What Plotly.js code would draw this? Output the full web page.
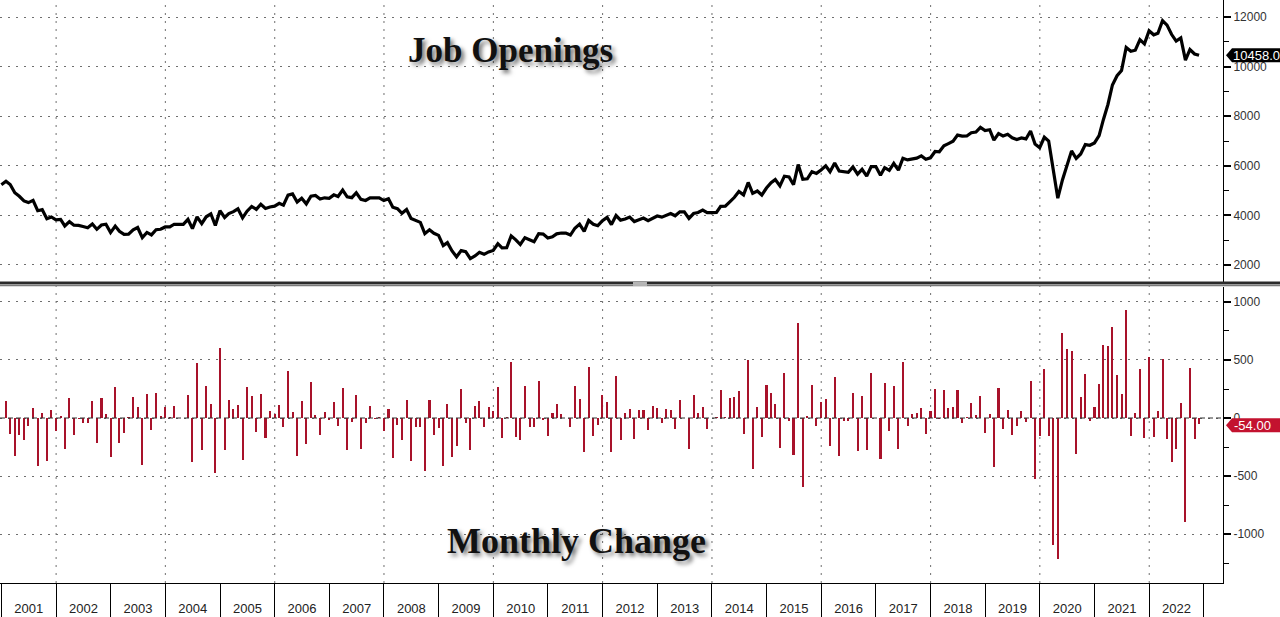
<!DOCTYPE html>
<html>
<head>
<meta charset="utf-8">
<script src="https://cdn.plot.ly/plotly-3.0.1.min.js"></script>
<style>
html,body{margin:0;padding:0;background:#fff;}
#chart{width:1280px;height:617px;}
</style>
</head>
<body>
<div id="chart"></div>
<script>
// First observation: December 2000, monthly (month-end) thereafter
const startYear = 2000;
const startMonth = 12;

// Job openings, thousands (Dec 2000 .. Nov 2022)
const jobOpenings = [
  5232,
  5378, 5243, 4913, 4770, 4583, 4514, 4603, 4187, 4230, 3863, 3935, 3820,
  3837, 3573, 3745, 3602, 3594, 3548, 3502, 3648, 3436, 3608, 3642, 3303,
  3567, 3355, 3229, 3238, 3416, 3511, 3103, 3310, 3210, 3422, 3439, 3531,
  3537, 3641, 3637, 3639, 3837, 3462, 3939, 3665, 3942, 4062, 3589, 4189,
  3913, 4070, 4148, 4261, 3901, 4168, 4358, 4240, 4447, 4277, 4337, 4369,
  4482, 4407, 4815, 4867, 4540, 4688, 4462, 4775, 4801, 4656, 4708, 4688,
  4827, 4760, 5021, 4745, 4713, 4910, 4646, 4600, 4704, 4695, 4704, 4595,
  4672, 4329, 4268, 4081, 4238, 3871, 3794, 3717, 3262, 3419, 3274, 3190,
  2778, 2900, 2564, 2326, 2578, 2532, 2256, 2360, 2508, 2427, 2523, 2584,
  2854, 2683, 2692, 3171, 3009, 2823, 3099, 3018, 2937, 3259, 3242, 3088,
  3131, 3253, 3288, 3285, 3204, 3480, 3645, 3355, 3796, 3642, 3584, 3781,
  3917, 3627, 3992, 3806, 3849, 3927, 3750, 3820, 3890, 3783, 3887, 3974,
  3928, 4006, 4076, 3983, 4140, 4140, 3876, 4073, 4116, 4212, 4113, 4113,
  4118, 4362, 4371, 4545, 4728, 4963, 4827, 5326, 4888, 4984, 4819, 5103,
  5321, 5443, 5188, 5580, 5551, 5235, 6050, 5458, 5473, 5760, 5693, 5832,
  5997, 5759, 6113, 5785, 5762, 5733, 5950, 5665, 5857, 5583, 5967, 5970,
  5618, 5924, 5814, 6093, 5825, 6304, 6236, 6268, 6310, 6398, 6262, 6323,
  6576, 6564, 6808, 6896, 6992, 7236, 7196, 7204, 7334, 7359, 7549, 7421,
  7455, 7035, 7296, 7203, 7273, 7129, 7061, 7121, 7083, 7403, 6881, 6728,
  7152, 6999, 5904, 4691, 5427, 6023, 6602, 6295, 6476, 6856, 6827, 6923,
  7217, 7850, 8474, 9262, 9634, 9841, 10774, 10621, 10665, 11089, 10920, 11447,
  11285, 11345, 11856, 11676, 11296, 11030, 11157, 10265, 10692, 10512, 10458
];

// Monthly change, thousands (Jan 2001 .. Nov 2022)
const monthlyChange = [
  146, -135, -330, -143, -187, -69, 89, -416, 43, -367, 72, -115,
  17, -264, 172, -143, -8, -46, -46, 146, -212, 172, 34, -339,
  264, -212, -126, 9, 178, 95, -408, 207, -100, 212, 17, 92,
  6, 104, -4, 2, 198, -375, 477, -274, 277, 120, -473, 600,
  -276, 157, 78, 113, -360, 267, 190, -118, 207, -170, 60, 32,
  113, -75, 408, 52, -327, 148, -226, 313, 26, -145, 52, -20,
  139, -67, 261, -276, -32, 197, -264, -46, 104, -9, 9, -109,
  77, -343, -61, -187, 157, -367, -77, -77, -455, 157, -145, -84,
  -412, 122, -336, -238, 252, -46, -276, 104, 148, -81, 96, 61,
  270, -171, 9, 479, -162, -186, 276, -81, -81, 322, -17, -154,
  43, 122, 35, -3, -81, 276, 165, -290, 441, -154, -58, 197,
  136, -290, 365, -186, 43, 78, -177, 70, 70, -107, 104, 87,
  -46, 78, 70, -93, 157, 0, -264, 197, 43, 96, -99, 0,
  5, 244, 9, 174, 183, 235, -136, 499, -438, 96, -165, 284,
  218, 122, -255, 392, -29, -316, 815, -592, 15, 287, -67, 139,
  165, -238, 354, -328, -23, -29, 217, -285, 192, -274, 384, 3,
  -352, 306, -110, 279, -268, 479, -68, 32, 42, 88, -136, 61,
  253, -12, 244, 88, 96, 244, -40, 8, 130, 25, 190, -128,
  34, -420, 261, -93, 70, -144, -68, 60, -38, 320, -522, -153,
  424, -153, -1095, -1213, 736, 596, 579, -307, 181, 380, -29, 96,
  294, 633, 624, 788, 372, 207, 933, -153, 44, 424, -169, 527,
  -162, 60, 511, -180, -380, -266, 127, -892, 427, -180, -54
];

const topTickVals = [2000, 4000, 6000, 8000, 10000, 12000];
const topTickText = ['2000', '4000', '6000', '8000', '10000', '12000'];
const bottomTickVals = [1000, 500, 0, -500, -1000];
const bottomTickText = ['1000', '500', '0', '-500', '-1000'];
const gridYears = [2002, 2004, 2006, 2008, 2010, 2012, 2014, 2016, 2018, 2020, 2022];
const topTitle = 'Job Openings';
const bottomTitle = 'Monthly Change';

function monthEnd(i) {
  const d = new Date(Date.UTC(startYear, startMonth - 1 + i + 1, 0));
  return d.toISOString().slice(0, 10);
}
const dates = jobOpenings.map((_, i) => monthEnd(i));
const changeDates = dates.slice(dates.length - monthlyChange.length);

const lastLevel = jobOpenings[jobOpenings.length - 1];
const lastChange = monthlyChange[monthlyChange.length - 1];

const gridDash = '2px,6px';
const gridColor = '#6f6f6f';

const traces = [
  {
    type: 'scatter', mode: 'lines',
    x: dates, y: jobOpenings,
    xaxis: 'x2', yaxis: 'y',
    line: {color: '#000', width: 3.2},
    hoverinfo: 'skip'
  },
  {
    type: 'bar',
    x: changeDates, y: monthlyChange,
    xaxis: 'x', yaxis: 'y2',
    width: 14 * 86400000,
    marker: {color: '#a8122a', line: {width: 0}},
    hoverinfo: 'skip'
  }
];

const shapes = [];
gridYears.forEach(y => {
  shapes.push({
    type: 'line', xref: 'x', yref: 'paper',
    x0: y + '-01-01', x1: y + '-01-01', y0: 0, y1: 1,
    line: {color: gridColor, width: 1, dash: gridDash}, layer: 'below'
  });
});
// zero line in the lower panel
shapes.push({
  type: 'line', xref: 'paper', yref: 'y2', x0: 0, x1: 1, y0: 0, y1: 0,
  line: {color: '#333', width: 1, dash: '5px,3px'}, layer: 'above'
});
// panel separator
shapes.push({
  type: 'line', xref: 'paper', yref: 'paper', x0: 0, x1: 1.05, y0: 0.5150, y1: 0.5150,
  line: {color: '#2a2a2a', width: 2.5}
});
shapes.push({
  type: 'line', xref: 'paper', yref: 'paper', x0: 0, x1: 1.05, y0: 0.5108, y1: 0.5108,
  line: {color: '#7a7a7a', width: 2}
});
shapes.push({
  type: 'rect', xref: 'paper', yref: 'paper', x0: 0.5176, x1: 0.529, y0: 0.5095, y1: 0.5165,
  fillcolor: '#b5b5b5', line: {width: 0}
});
// last value tags
shapes.push({
  type: 'path', xref: 'paper', yref: 'y', xsizemode: 'pixel', ysizemode: 'pixel',
  xanchor: 1, yanchor: lastLevel,
  path: 'M3,0 L9,7 L60,7 L60,-7 L9,-7 Z',
  fillcolor: '#000', line: {width: 0}, layer: 'above'
});
shapes.push({
  type: 'path', xref: 'paper', yref: 'y2', xsizemode: 'pixel', ysizemode: 'pixel',
  xanchor: 1, yanchor: lastChange,
  path: 'M3,-1 L9,6 L60,6 L60,-8 L9,-8 Z',
  fillcolor: '#c3122f', line: {width: 0}, layer: 'above'
});

const titleShadow = '3px 3px 4px rgba(0,0,0,0.55)';
const annotations = [
  {
    xref: 'paper', yref: 'paper', x: 510 / 1223, y: (583 - 50) / 583,
    xanchor: 'center', yanchor: 'middle',
    text: topTitle, showarrow: false,
    font: {family: 'Liberation Serif, serif', size: 35, color: '#111', weight: 'bold', shadow: titleShadow}
  },
  {
    xref: 'paper', yref: 'paper', x: 576 / 1223, y: (583 - 541) / 583,
    xanchor: 'center', yanchor: 'middle',
    text: bottomTitle, showarrow: false,
    font: {family: 'Liberation Serif, serif', size: 36, color: '#111', weight: 'bold', shadow: titleShadow}
  },
  {
    xref: 'paper', yref: 'y', x: 1, y: lastLevel, xanchor: 'left', yanchor: 'middle', xshift: 8,
    text: lastLevel.toFixed(1), showarrow: false,
    font: {family: 'Liberation Sans, Arial, sans-serif', size: 13, color: '#fff'}
  },
  {
    xref: 'paper', yref: 'y2', x: 1, y: lastChange, xanchor: 'left', yanchor: 'middle', xshift: 9, yshift: -1,
    text: lastChange.toFixed(2), showarrow: false,
    font: {family: 'Liberation Sans, Arial, sans-serif', size: 13, color: '#fff'}
  }
];

const tickFont = {family: 'Liberation Sans, Arial, sans-serif', size: 12, color: '#333'};

const layout = {
  width: 1280, height: 617,
  margin: {l: 0, r: 57, t: 0, b: 34, pad: 0},
  paper_bgcolor: '#fff', plot_bgcolor: '#fff',
  showlegend: false,
  bargap: 0,
  font: {family: 'Liberation Sans, Arial, sans-serif', color: '#333'},
  xaxis: {
    type: 'date', anchor: 'y2', domain: [0, 1],
    range: ['2000-12-22', '2023-05-09'],
    dtick: 'M12', tick0: '2001-01-01', tickformat: '%Y',
    ticklabelmode: 'period',
    ticks: 'outside', ticklen: 34, tickwidth: 1, tickcolor: '#000',
    ticklabelstandoff: -21,
    tickfont: {family: 'Liberation Sans, Arial, sans-serif', size: 13, color: '#222'},
    showgrid: false, gridcolor: 'rgba(0,0,0,0)', zeroline: false,
    showline: true, linecolor: '#000', linewidth: 1,
    automargin: false, fixedrange: true
  },
  xaxis2: {
    type: 'date', anchor: 'y', matches: 'x', domain: [0, 1],
    showticklabels: false, ticks: '', showgrid: false, gridcolor: 'rgba(0,0,0,0)',
    zeroline: false, showline: false,
    automargin: false
  },
  yaxis: {
    anchor: 'x2', side: 'right', domain: [0.5146, 1],
    range: [1270, 12690],
    tickvals: topTickVals, ticktext: topTickText,
    ticks: 'outside', ticklen: 7, tickwidth: 2, tickcolor: '#000',
    minor: {dtick: 1000, ticks: 'outside', ticklen: 5, tickwidth: 1, tickcolor: '#000', showgrid: false},
    tickfont: tickFont,
    showgrid: true, gridcolor: gridColor, griddash: gridDash, gridwidth: 1,
    zeroline: false, showline: true, linecolor: '#000', linewidth: 1,
    automargin: false
  },
  yaxis2: {
    anchor: 'x', side: 'right', domain: [0, 0.5077],
    range: [-1422, 1129],
    tickvals: bottomTickVals, ticktext: bottomTickText,
    ticks: 'outside', ticklen: 7, tickwidth: 2, tickcolor: '#000',
    minor: {dtick: 250, ticks: 'outside', ticklen: 5, tickwidth: 1, tickcolor: '#000', showgrid: false},
    tickfont: tickFont,
    showgrid: true, gridcolor: gridColor, griddash: gridDash, gridwidth: 1,
    zeroline: false, showline: true, linecolor: '#000', linewidth: 1,
    automargin: false
  },
  shapes: shapes,
  annotations: annotations
};

Plotly.newPlot('chart', traces, layout, {staticPlot: true, displayModeBar: false});
</script>
</body>
</html>
